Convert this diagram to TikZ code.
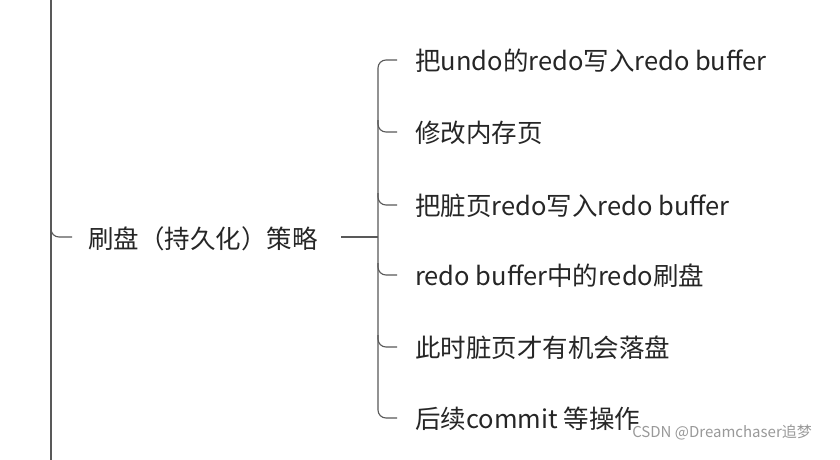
\documentclass[tikz,border=0pt]{standalone}
\usepackage{fontspec}
\setmainfont{Noto Sans CJK SC}
\begin{document}
\begin{tikzpicture}[x=1pt,y=-1pt,
 ln/.style={draw=black!65,line width=1.1pt,rounded corners=8pt},
 it/.style={anchor=west,inner sep=0pt,font=\fontsize{25.5}{25.5}\selectfont,text=black!85}]
\useasboundingbox[fill=white] (0,0) rectangle (840,460);
\draw[ln] (51,0) -- (51,460);
\node[it] (main) at (88,239) {刷盘（持久化）策略};
\draw[ln] (51,225) |- (72,237);
\coordinate (b) at (378,237);
\draw[ln] (341,237) -- (b);
\foreach \i/\y/\t in {1/61/把undo的redo写入redo buffer,2/133/修改内存页,3/206/把脏页redo写入redo buffer,4/276/redo buffer中的redo刷盘,5/348/此时脏页才有机会落盘,6/419/后续commit 等操作}{
 \node[it] (n\i) at (415,\y) {\t};
}
\draw[ln] (397,60) -| (378,237) |- (397,418);
\foreach \y in {132,205,275,347}{\draw[ln] (378,\y-12) |- (397,\y);}
\node[anchor=east,inner sep=0pt,font=\fontsize{15}{15}\selectfont,text=black!40] (wm) at (812,432) {CSDN @Dreamchaser追梦};
\end{tikzpicture}
\end{document}
